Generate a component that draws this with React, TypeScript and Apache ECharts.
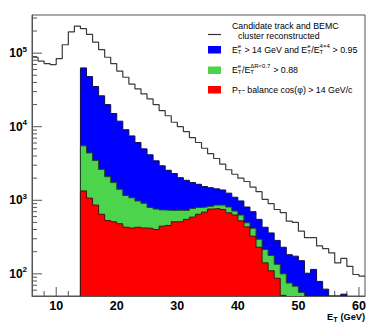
import React, { useEffect, useRef } from 'react';
import * as echarts from 'echarts';

// Histogram bins are 1 GeV wide; arrays hold counts starting at the given lower bin edge.
const totalStart = 6;
const totalCounts = [
  88000, 78000, 72000, 70000, 84000, 130000, 194000, 233000, 215000, 180000,
  141000, 112000, 88000, 72000, 57000, 47000, 38000, 32700, 27900, 23900,
  20000, 16500, 14100, 11500, 10000, 8600, 7100, 6100, 5100, 4300,
  3700, 3100, 2600, 2260, 2000, 1800, 1510, 1310, 1030, 900,
  750, 680, 520, 500, 380, 310, 310, 240, 220, 193,
  141, 162, 126, 98, 93,
];
const blueStart = 14;
const blueCounts = [
  63000, 48000, 35200, 26300, 20000, 15100, 11900, 9100, 7500, 6100,
  5000, 4150, 3440, 2940, 2560, 2310, 2030, 1870, 1740, 1650,
  1540, 1480, 1430, 1380, 1250, 1100, 980, 810, 700, 550,
  430, 360, 285, 230, 182, 174, 151, 102, 115, 79,
  62, 0, 0, 53,
];
const greenStart = 14;
const greenCounts = [
  5500, 4400, 3470, 2630, 2090, 1740, 1410, 1160, 1080, 980,
  910, 800, 760, 740, 730, 730, 730, 730, 775, 800,
  810, 830, 860, 860, 810, 715, 630, 495, 417, 295,
  214, 178, 135, 100, 75, 68, 56,
];
const redStart = 14;
const redCounts = [
  1340, 1070, 860, 645, 530, 510, 480, 430, 420, 430,
  420, 415, 400, 445, 455, 510, 510, 550, 590, 645,
  690, 760, 775, 750, 675, 630, 525, 435, 325, 230,
  141, 110, 87, 51,
];

const xMajorTicks = [10, 20, 30, 40, 50, 60];
const xMinorTicks = [8, 12, 14, 16, 18, 22, 24, 26, 28, 32, 34, 36, 38, 42, 44, 46, 48, 52, 54, 56, 58];
const yMajorTicks = [100, 1000, 10000, 100000];
const yMinorTicks = [
  60, 70, 80, 90,
  200, 300, 400, 500, 600, 700, 800, 900,
  2000, 3000, 4000, 5000, 6000, 7000, 8000, 9000,
  20000, 30000, 40000, 50000, 60000, 70000, 80000, 90000,
  200000, 300000,
];

const X_MIN = 6;
const X_MAX = 61;
const Y_MIN = 50;
const Y_MAX = 330000;

const FONT = '"Liberation Sans", Arial, Helvetica, sans-serif';
const BLUE = '#0000ff';
const GREEN = '#4cd44c';
const RED = '#ff0000';

function histPoints(start: number, counts: number[], closed: boolean) {
  const pts: [number, number][] = [];
  if (closed) pts.push([start, Y_MIN]);
  counts.forEach((c, i) => pts.push([start + i, c > 0 ? c : Y_MIN]));
  const lastEdge = start + counts.length;
  const last = counts[counts.length - 1];
  pts.push([lastEdge, last > 0 ? last : Y_MIN]);
  if (closed) pts.push([lastEdge, Y_MIN]);
  return pts;
}

let measureCtx: CanvasRenderingContext2D | null = null;
function textWidth(t: string, size: number, weight = 'normal') {
  if (!measureCtx) measureCtx = document.createElement('canvas').getContext('2d');
  if (!measureCtx) return t.length * size * 0.5;
  measureCtx.font = `${weight} ${size}px ${FONT}`;
  return measureCtx.measureText(t).width;
}

type Part = string | { sup?: string; sub?: string };

function richLine(x0: number, yc: number, parts: Part[], fs: number, sfs: number, weight = 'normal', z = 60) {
  const els: any[] = [];
  let x = x0;
  const txt = (t: string, px: number, py: number, size: number) => ({
    type: 'text',
    x: px,
    y: py,
    z,
    silent: true,
    style: {
      text: t,
      fontSize: size,
      fontFamily: FONT,
      fontWeight: weight,
      fill: '#000',
      align: 'left',
      verticalAlign: 'middle',
    },
  });
  parts.forEach((p) => {
    if (typeof p === 'string') {
      els.push(txt(p, x, yc, fs));
      x += textWidth(p, fs, weight);
    } else {
      let w = 0;
      if (p.sup) {
        els.push(txt(p.sup, x, yc - fs * 0.36, sfs));
        w = Math.max(w, textWidth(p.sup, sfs, weight));
      }
      if (p.sub) {
        els.push(txt(p.sub, x, yc + fs * 0.3, sfs));
        w = Math.max(w, textWidth(p.sub, sfs, weight));
      }
      x += w + 0.4;
    }
  });
  return els;
}

export default function App() {
  const ref = useRef<HTMLDivElement>(null);
  useEffect(() => {
    if (!ref.current) return;
    const chart = echarts.init(ref.current, undefined, { renderer: 'svg' });

    const tickStyle = { stroke: '#555', lineWidth: 1 };
    const xTickSeries = (ticks: number[], len: number) => ({
      type: 'custom',
      silent: true,
      z: 1,
      data: ticks.map((v) => [v, Y_MIN]),
      renderItem: (_p: any, api: any) => {
        const p = api.coord([api.value(0), Y_MIN]);
        return { type: 'line', shape: { x1: p[0], y1: p[1], x2: p[0], y2: p[1] - len }, style: tickStyle };
      },
    });
    const yTickSeries = (ticks: number[], len: number) => ({
      type: 'custom',
      silent: true,
      z: 1,
      data: ticks.map((v) => [X_MIN, v]),
      renderItem: (_p: any, api: any) => {
        const p = api.coord([X_MIN, api.value(1)]);
        return { type: 'line', shape: { x1: p[0], y1: p[1], x2: p[0] + len, y2: p[1] }, style: tickStyle };
      },
    });

    const areaSeries = (start: number, counts: number[], color: string, edge: string) => ({
      type: 'line',
      step: 'end',
      symbol: 'none',
      z: 2,
      silent: true,
      data: histPoints(start, counts, true),
      lineStyle: { color: edge, width: 1 },
      areaStyle: { color, opacity: 1, origin: 'start' },
    });

    const FS = 8.8;
    const SFS = 6;
    const LX = 232;
    const graphic: any[] = [
      // legend symbols
      { type: 'line', shape: { x1: 208, y1: 34.5, x2: 221, y2: 34.5 }, style: { stroke: '#333', lineWidth: 1.2 } },
      { type: 'rect', shape: { x: 208, y: 46, width: 13, height: 7.5 }, style: { fill: BLUE } },
      { type: 'rect', shape: { x: 208, y: 66.5, width: 13, height: 7.5 }, style: { fill: GREEN } },
      { type: 'rect', shape: { x: 208, y: 86, width: 13, height: 7.5 }, style: { fill: RED } },
      ...richLine(LX, 26.3, ['Candidate track and BEMC'], FS, SFS),
      ...richLine(LX + 6, 35.8, ['cluster reconstructed'], FS, SFS),
      ...richLine(LX, 49.6, ['E', { sup: 'e', sub: 'T' }, ' > 14 GeV and E', { sup: 'e', sub: 'T' }, '/E', { sup: '4×4', sub: 'T' }, ' > 0.95'], FS, SFS),
      ...richLine(LX, 69.6, ['E', { sup: 'e', sub: 'T' }, '/E', { sup: 'ΔR<0.7', sub: 'T' }, ' > 0.88'], FS, SFS),
      ...richLine(LX, 89.6, ['P', { sub: 'T' }, '- balance cos(φ) > 14 GeV/c'], FS, SFS),
    ];
    // axis title E_T (GeV), right aligned at 365
    const tFS = 9.2;
    const tw = textWidth('E', tFS, 'bold') + textWidth('T', 7.2, 'bold') + 0.4 + textWidth(' (GeV)', tFS, 'bold');
    graphic.push(...richLine(365 - tw, 316.5, ['E', { sub: 'T' }, ' (GeV)'], tFS, 7.2, 'bold', 60));

    chart.setOption({
      animation: false,
      grid: { left: 32, top: 15, right: 9, bottom: 30, show: true, borderColor: '#555', borderWidth: 1, backgroundColor: 'transparent' },
      xAxis: {
        type: 'value',
        min: X_MIN,
        max: X_MAX,
        interval: 2,
        z: 10,
        axisLine: { show: true, lineStyle: { color: '#555', width: 1 } },
        axisTick: { show: false },
        splitLine: { show: false },
        axisLabel: {
          margin: 3.5,
          fontSize: 12.5,
          lineHeight: 12,
          fontWeight: 'bold',
          fontFamily: FONT,
          color: '#000',
          showMinLabel: false,
          showMaxLabel: false,
          formatter: (v: number) => (Math.abs(v % 10) < 1e-9 ? String(v) : ''),
        },
      },
      yAxis: {
        type: 'log',
        logBase: 10,
        min: Y_MIN,
        max: Y_MAX,
        z: 10,
        axisLine: { show: true, lineStyle: { color: '#555', width: 1 } },
        axisTick: { show: false },
        splitLine: { show: false },
        minorTick: { show: false },
        axisLabel: {
          margin: 5,
          showMinLabel: false,
          showMaxLabel: false,
          formatter: (v: number) => {
            const l = Math.log10(v);
            const e = Math.round(l);
            if (Math.abs(l - e) > 1e-6) return '';
            return `{b|10}{s|${e}}`;
          },
          rich: {
            b: { fontSize: 12, fontWeight: 'bold', fontFamily: FONT, color: '#000', lineHeight: 16 },
            s: { fontSize: 8, fontWeight: 'bold', fontFamily: FONT, color: '#000', lineHeight: 10, verticalAlign: 'top' },
          },
        },
      },
      series: [
        xTickSeries(xMajorTicks, 9),
        xTickSeries(xMinorTicks, 5),
        yTickSeries(yMajorTicks, 10),
        yTickSeries(yMinorTicks, 5),
        areaSeries(blueStart, blueCounts, BLUE, '#10104a'),
        areaSeries(greenStart, greenCounts, GREEN, '#1f4a1f'),
        areaSeries(redStart, redCounts, RED, '#4a1010'),
        {
          type: 'line',
          step: 'end',
          symbol: 'none',
          z: 3,
          silent: true,
          data: histPoints(totalStart, totalCounts, false),
          lineStyle: { color: '#3a3a3a', width: 1.2 },
        },
      ],
      graphic,
    });
    return () => chart.dispose();
  }, []);
  return <div ref={ref} style={{ position: 'fixed', left: 0, top: 0, width: 374, height: 326, background: '#fff' }} />;
}
